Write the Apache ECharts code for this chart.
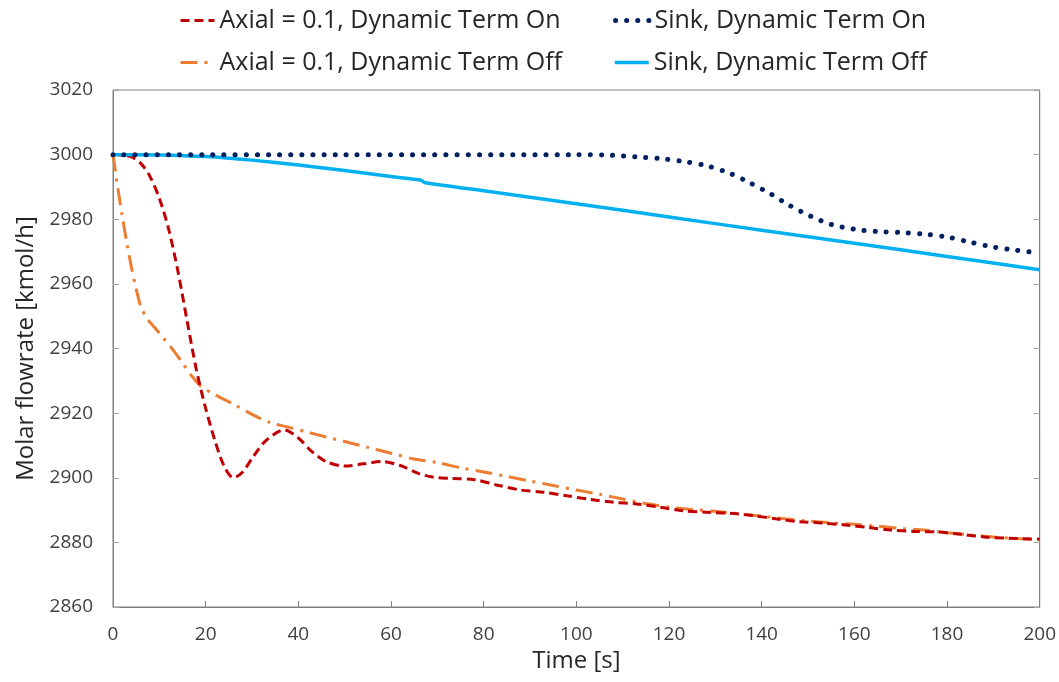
<!DOCTYPE html>
<html>
<head>
<meta charset="utf-8">
<script src="https://cdn.jsdelivr.net/npm/echarts@6/dist/echarts.min.js"></script>
<style>
html,body{margin:0;padding:0;background:#fff;}
#chart{width:1059px;height:682px;}
</style>
</head>
<body>
<div id="chart"></div>
<script>
const xTicks = [0, 20, 40, 60, 80, 100, 120, 140, 160, 180, 200];
const yTicks = [2860, 2880, 2900, 2920, 2940, 2960, 2980, 3000, 3020];

const seriesNames = [
  'Axial = 0.1, Dynamic Term On',
  'Sink, Dynamic Term On',
  'Axial = 0.1, Dynamic Term Off',
  'Sink, Dynamic Term Off'
];

const axialOnT = [0, 2, 4, 6, 8, 10, 12, 14, 16, 18, 20, 22, 24, 26, 28, 30, 33, 37, 40, 43, 46, 50, 54, 58, 62, 66, 69, 73, 78, 83, 88, 93, 98, 103, 108, 113, 118, 123, 128, 133, 138, 143, 148, 153, 158, 163, 168, 173, 178, 183, 188, 193, 200];
const axialOnV = [3000, 2999.8, 2999.3, 2997.3, 2993.2, 2986.5, 2977, 2964, 2948.5, 2933.4, 2921.5, 2911.5, 2903.5, 2900, 2901.8, 2906, 2911.5, 2914.8, 2912.3, 2908, 2905, 2903.6, 2904.3, 2905, 2903.8, 2901.3, 2900.2, 2899.8, 2899.4, 2897.7, 2896.2, 2895.5, 2894.4, 2893.3, 2892.4, 2891.9, 2890.9, 2889.8, 2889.3, 2889, 2888.3, 2887.3, 2886.4, 2886, 2885.4, 2884.6, 2883.8, 2883.4, 2883.2, 2882.5, 2881.7, 2881.3, 2881];

const axialOffT = [0, 0.5, 1, 2, 3, 4, 5, 6, 7.5, 9, 11, 13, 15, 17, 19, 22, 26, 30, 34, 38, 42, 46, 50, 55, 60, 65, 70, 75, 80, 85, 90, 95, 100, 105, 110, 115, 120, 125, 130, 135, 140, 145, 150, 155, 160, 165, 170, 175, 180, 185, 190, 195, 200];
const axialOffV = [3000, 2995, 2990, 2981, 2972.5, 2965, 2958.5, 2953, 2949, 2946.5, 2943, 2939.5, 2935.5, 2931.5, 2928.3, 2925.7, 2922.8, 2919.6, 2917, 2915.6, 2914.1, 2912.6, 2911.2, 2909.4, 2907.6, 2905.8, 2904.7, 2903.1, 2901.8, 2900.4, 2899, 2897.6, 2896.2, 2894.9, 2893.4, 2892, 2890.9, 2890.2, 2889.6, 2888.9, 2888.1, 2887.3, 2886.6, 2886.1, 2885.6, 2885, 2884.3, 2883.8, 2883, 2882.3, 2881.7, 2881.2, 2880.9];

const sinkOnT = [0, 50, 100, 106, 110, 113, 118, 123, 128, 133, 137, 142, 146, 150.5, 155, 160, 165, 170, 175, 180, 185, 190, 195, 200];
const sinkOnV = [3000, 3000, 3000, 2999.9, 2999.6, 2999.3, 2998.8, 2997.9, 2996.6, 2994.3, 2991.6, 2987.8, 2984.3, 2981, 2978.4, 2976.9, 2976.2, 2975.9, 2975.4, 2974.5, 2972.9, 2971.4, 2970.4, 2969.5];

const sinkOffT = [0, 10, 20, 30, 40, 50, 60, 66.5, 67.2, 80, 100, 120, 140, 160, 180, 200];
const sinkOffV = [3000, 2999.9, 2999.4, 2998.3, 2996.8, 2995.1, 2993.2, 2992.1, 2991.4, 2988.8, 2984.8, 2980.7, 2976.6, 2972.6, 2968.5, 2964.4];

function pairs(t, v) { return t.map((x, i) => [x, v[i]]); }

const FONT = '"Open Sans", "Noto Sans", sans-serif';
const chart = echarts.init(document.getElementById('chart'), null, {renderer: 'canvas'});

const styles = [
  {color: '#C00000', width: 3, type: [9, 5]},
  {color: '#002060', width: 5, type: [0.1, 11], cap: 'round'},
  {color: '#ED7D31', width: 3, type: [17, 7, 3, 7]},
  {color: '#00B0F0', width: 3.5, type: 'solid'}
];

function legendAt(i, left, top) {
  return {
    data: [seriesNames[i]], left: left, top: top, padding: 0,
    itemWidth: 34, itemHeight: 14,
    itemStyle: {opacity: 0},
    lineStyle: Object.assign({}, styles[i]),
    textStyle: {fontFamily: FONT, fontSize: 25, color: '#262626'},
    selectedMode: false
  };
}

const option = {
  animation: false,
  backgroundColor: '#fff',
  legend: [
    legendAt(0, 179, 8),
    legendAt(1, 613, 8),
    legendAt(2, 179, 50),
    legendAt(3, 613, 50)
  ],
  grid: {left: 113, right: 18, top: 90, bottom: 75, show: true, borderColor: '#808080', borderWidth: 1, containLabel: false},
  xAxis: {
    type: 'value', min: xTicks[0], max: xTicks[xTicks.length - 1], interval: 20,
    name: 'Time [s]', nameLocation: 'middle', nameGap: 40,
    nameTextStyle: {fontFamily: FONT, fontSize: 24, color: '#262626'},
    axisLine: {show: true, lineStyle: {color: '#808080', width: 1}},
    axisTick: {show: true, inside: true, length: 6, lineStyle: {color: '#808080'}},
    axisLabel: {fontFamily: FONT, fontSize: 19, color: '#404040', margin: 18},
    splitLine: {show: false}
  },
  yAxis: [{
    type: 'value', min: yTicks[0], max: yTicks[yTicks.length - 1], interval: 20,
    name: 'Molar flowrate [kmol/h]', nameLocation: 'middle', nameGap: 58, nameRotate: 90,
    nameTextStyle: {fontFamily: FONT, fontSize: 24, color: '#262626'},
    axisLine: {show: true, lineStyle: {color: '#808080', width: 1}},
    axisTick: {show: true, inside: true, length: 6, lineStyle: {color: '#a6a6a6'}},
    axisLabel: {fontFamily: FONT, fontSize: 19, color: '#404040', margin: 20, formatter: (v) => String(v)},
    splitLine: {show: false}
  }, {
    type: 'value', position: 'right', min: yTicks[0], max: yTicks[yTicks.length - 1], interval: 20,
    axisLine: {show: true, lineStyle: {color: '#808080', width: 1}},
    axisTick: {show: true, inside: true, length: 6, lineStyle: {color: '#a6a6a6'}},
    axisLabel: {show: false},
    splitLine: {show: false}
  }],
  series: [
    {
      name: seriesNames[0], type: 'line', data: pairs(axialOnT, axialOnV),
      symbol: 'none', smooth: 0.3, z: 3,
      itemStyle: {color: styles[0].color},
      lineStyle: styles[0]
    },
    {
      name: seriesNames[1], type: 'line', data: pairs(sinkOnT, sinkOnV),
      symbol: 'none', smooth: 0.3, z: 4,
      itemStyle: {color: styles[1].color},
      lineStyle: styles[1]
    },
    {
      name: seriesNames[2], type: 'line', data: pairs(axialOffT, axialOffV),
      symbol: 'none', smooth: 0.3, z: 2,
      itemStyle: {color: styles[2].color},
      lineStyle: styles[2]
    },
    {
      name: seriesNames[3], type: 'line', data: pairs(sinkOffT, sinkOffV),
      symbol: 'none', smooth: 0.2, z: 3,
      itemStyle: {color: styles[3].color},
      lineStyle: styles[3]
    }
  ]
};
chart.setOption(option);
</script>
</body>
</html>
